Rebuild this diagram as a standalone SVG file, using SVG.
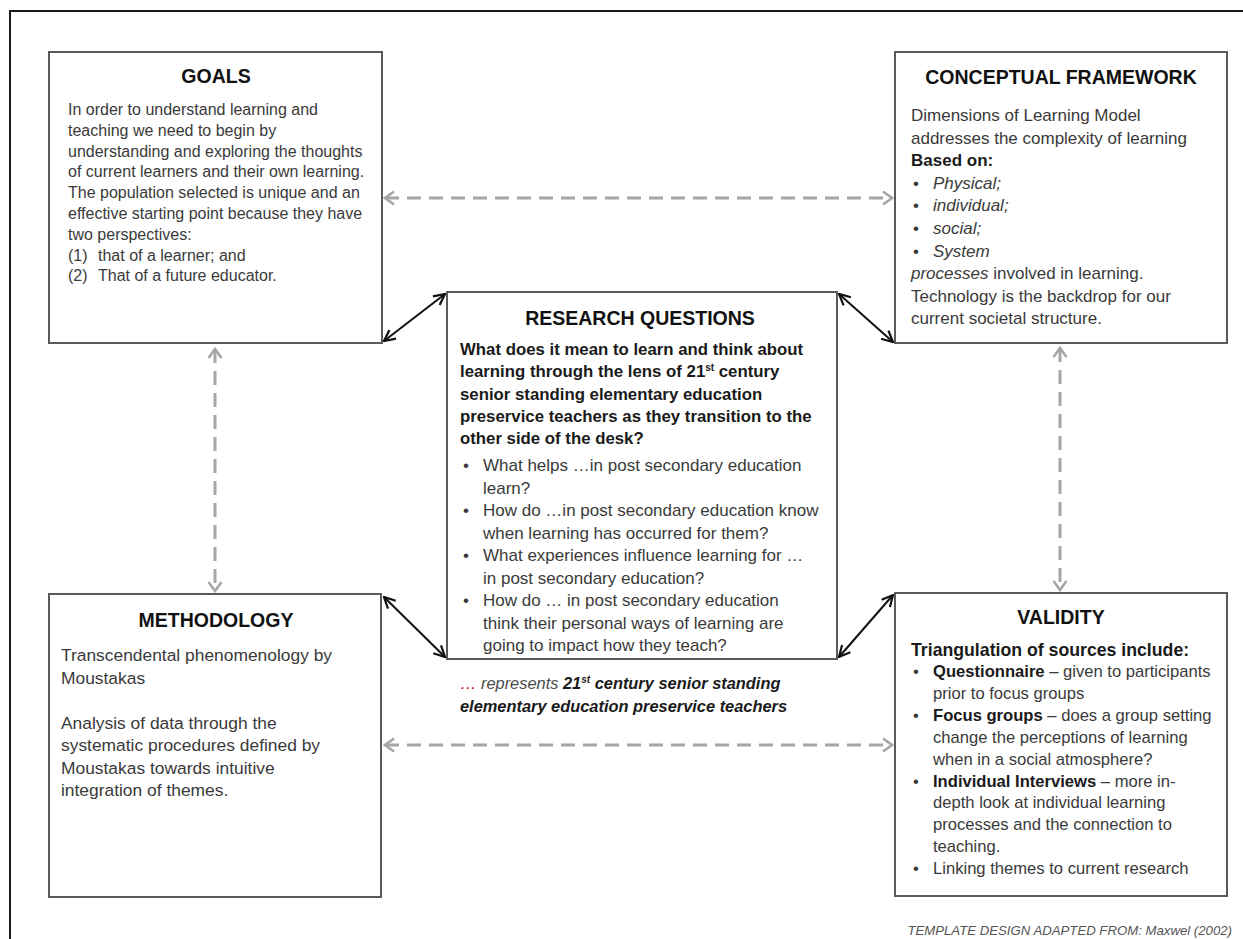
<svg xmlns="http://www.w3.org/2000/svg" width="1243" height="939" viewBox="0 0 1243 939">
  <style>
    .box { fill: #ffffff; stroke: #5a5a5a; stroke-width: 2; }
    .title { font-family: "Liberation Sans", Arial, sans-serif; font-weight: bold; font-size: 19.5px; fill: #111111; text-anchor: middle; }
    .body { font-family: "Liberation Sans", Arial, sans-serif; fill: #3a3a3a; }
    .strong { font-weight: bold; fill: #1a1a1a; }
    .it { font-style: italic; }
    .solid { fill: none; stroke: #111111; stroke-width: 2; marker-start: url(#ah-black); marker-end: url(#ah-black); }
    .dashed { fill: none; stroke: #a6a6a6; stroke-width: 3; stroke-dasharray: 14 8; marker-start: url(#ah-grey); marker-end: url(#ah-grey); }
  </style>
  <defs>
    <marker id="ah-black" viewBox="0 0 14 14" refX="13" refY="7" markerWidth="14" markerHeight="14" markerUnits="userSpaceOnUse" orient="auto-start-reverse">
      <path d="M2,1.5 L13,7 L2,12.5" fill="none" stroke="#111111" stroke-width="2.2" stroke-dasharray="none"/>
    </marker>
    <marker id="ah-grey" viewBox="0 0 14 16" refX="12" refY="8" markerWidth="14" markerHeight="16" markerUnits="userSpaceOnUse" orient="auto-start-reverse">
      <path d="M3,1.5 L12,8 L3,14.5" fill="none" stroke="#a6a6a6" stroke-width="2.6" stroke-dasharray="none"/>
    </marker>
  </defs>

  <rect width="1243" height="939" fill="#ffffff"/>
  <!-- outer frame -->
  <path d="M10,940 V11 H1244" fill="none" stroke="#1a1a1a" stroke-width="2"/>

  <!-- connectors -->
  <g id="connectors">
    <line class="dashed" x1="385" y1="198" x2="892" y2="198"/>
    <line class="dashed" x1="215" y1="349" x2="215" y2="591"/>
    <line class="dashed" x1="1060" y1="348" x2="1060" y2="590"/>
    <line class="dashed" x1="385" y1="745" x2="892" y2="745"/>
    <line class="solid" x1="384" y1="341" x2="445" y2="294"/>
    <line class="solid" x1="839" y1="294" x2="893" y2="342"/>
    <line class="solid" x1="384" y1="597" x2="445" y2="657"/>
    <line class="solid" x1="839" y1="657" x2="893" y2="595"/>
  </g>

  <!-- goals -->
  <g id="goals">
    <rect class="box" x="49" y="52" width="333" height="291"/>
    <text class="title" x="216" y="83">GOALS</text>
    <g class="body" font-size="16">
      <text x="68" y="115">In order to understand learning and</text>
      <text x="68" y="135.8">teaching we need to begin by</text>
      <text x="68" y="156.6">understanding and exploring the thoughts</text>
      <text x="68" y="177.4">of current learners and their own learning.</text>
      <text x="68" y="198.2">The population selected is unique and an</text>
      <text x="68" y="219">effective starting point because they have</text>
      <text x="68" y="239.8">two perspectives:</text>
      <text x="68" y="260.6">(1)</text><text x="98" y="260.6">that of a learner; and</text>
      <text x="68" y="281.4">(2)</text><text x="98" y="281.4">That of a future educator.</text>
    </g>
  </g>

  <!-- conceptual framework -->
  <g id="conceptual-framework">
    <rect class="box" x="895" y="52" width="332" height="291"/>
    <text class="title" x="1061" y="84">CONCEPTUAL FRAMEWORK</text>
    <g class="body" font-size="17">
      <text x="911" y="121">Dimensions of Learning Model</text>
      <text x="911" y="143.6">addresses the complexity of learning</text>
      <text x="911" y="166.2" class="strong">Based on:</text>
      <text x="913" y="188.8">•</text><text x="933" y="188.8" class="it">Physical;</text>
      <text x="913" y="211.4">•</text><text x="933" y="211.4" class="it">individual;</text>
      <text x="913" y="234">•</text><text x="933" y="234" class="it">social;</text>
      <text x="913" y="256.6">•</text><text x="933" y="256.6" class="it">System</text>
      <text x="911" y="279.2"><tspan class="it">processes</tspan> involved in learning.</text>
      <text x="911" y="301.8">Technology is the backdrop for our</text>
      <text x="911" y="324.4">current societal structure.</text>
    </g>
  </g>

  <!-- research questions -->
  <g id="research-questions">
    <rect class="box" x="447" y="292" width="390" height="367"/>
    <text class="title" x="640" y="325">RESEARCH QUESTIONS</text>
    <g class="body strong" font-size="16.8">
      <text x="460" y="355">What does it mean to learn and think about</text>
      <text x="460" y="377.3">learning through the lens of 21<tspan font-size="10" dy="-6">st</tspan><tspan dy="6"> century</tspan></text>
      <text x="460" y="399.6">senior standing elementary education</text>
      <text x="460" y="421.9">preservice teachers as they transition to the</text>
      <text x="460" y="444.2">other side of the desk?</text>
    </g>
    <g class="body" font-size="17">
      <text x="463" y="471">•</text><text x="483" y="471">What helps …in post secondary education</text>
      <text x="483" y="493.5">learn?</text>
      <text x="463" y="516">•</text><text x="483" y="516">How do …in post secondary education know</text>
      <text x="483" y="538.5">when learning has occurred for them?</text>
      <text x="463" y="561">•</text><text x="483" y="561">What experiences influence learning for …</text>
      <text x="483" y="583.5">in post secondary education?</text>
      <text x="463" y="606">•</text><text x="483" y="606">How do … in post secondary education</text>
      <text x="483" y="628.5">think their personal ways of learning are</text>
      <text x="483" y="651">going to impact how they teach?</text>
    </g>
  </g>

  <!-- note under the research questions -->
  <g id="ellipsis-note" class="body it" font-size="16.4">
    <text x="460" y="689"><tspan fill="#c00000">…</tspan><tspan fill="#4a4a4a"> represents </tspan><tspan class="strong">21<tspan font-size="10" dy="-6">st</tspan><tspan dy="6"> century senior standing</tspan></tspan></text>
    <text x="460" y="712" class="strong">elementary education preservice teachers</text>
  </g>

  <!-- methodology -->
  <g id="methodology">
    <rect class="box" x="49" y="594" width="332" height="303"/>
    <text class="title" x="216" y="627">METHODOLOGY</text>
    <g class="body" font-size="17.4">
      <text x="61" y="661">Transcendental phenomenology by</text>
      <text x="61" y="683.5">Moustakas</text>
      <text x="61" y="728.5">Analysis of data through the</text>
      <text x="61" y="751">systematic procedures defined by</text>
      <text x="61" y="773.5">Moustakas towards intuitive</text>
      <text x="61" y="796">integration of themes.</text>
    </g>
  </g>

  <!-- validity -->
  <g id="validity">
    <rect class="box" x="895" y="593" width="332" height="303"/>
    <text class="title" x="1061" y="624">VALIDITY</text>
    <text x="911" y="656" class="body strong" font-size="17.7">Triangulation of sources include:</text>
    <g class="body" font-size="16.6">
      <text x="913" y="677">•</text><text x="933" y="677"><tspan class="strong">Questionnaire</tspan> – given to participants</text>
      <text x="933" y="699">prior to focus groups</text>
      <text x="913" y="721">•</text><text x="933" y="721"><tspan class="strong">Focus groups</tspan> – does a group setting</text>
      <text x="933" y="743">change the perceptions of learning</text>
      <text x="933" y="764.5">when in a social atmosphere?</text>
      <text x="913" y="786.5">•</text><text x="933" y="786.5"><tspan class="strong">Individual Interviews</tspan> – more in-</text>
      <text x="933" y="808">depth look at individual learning</text>
      <text x="933" y="830">processes and the connection to</text>
      <text x="933" y="852">teaching.</text>
      <text x="913" y="873.5">•</text><text x="933" y="873.5">Linking themes to current research</text>
    </g>
  </g>

  <!-- credit line -->
  <text x="1232" y="935" text-anchor="end" font-family="'Liberation Sans', Arial, sans-serif" font-style="italic" font-size="13.2" fill="#555555">TEMPLATE DESIGN ADAPTED FROM: Maxwel (2002)</text>
</svg>
